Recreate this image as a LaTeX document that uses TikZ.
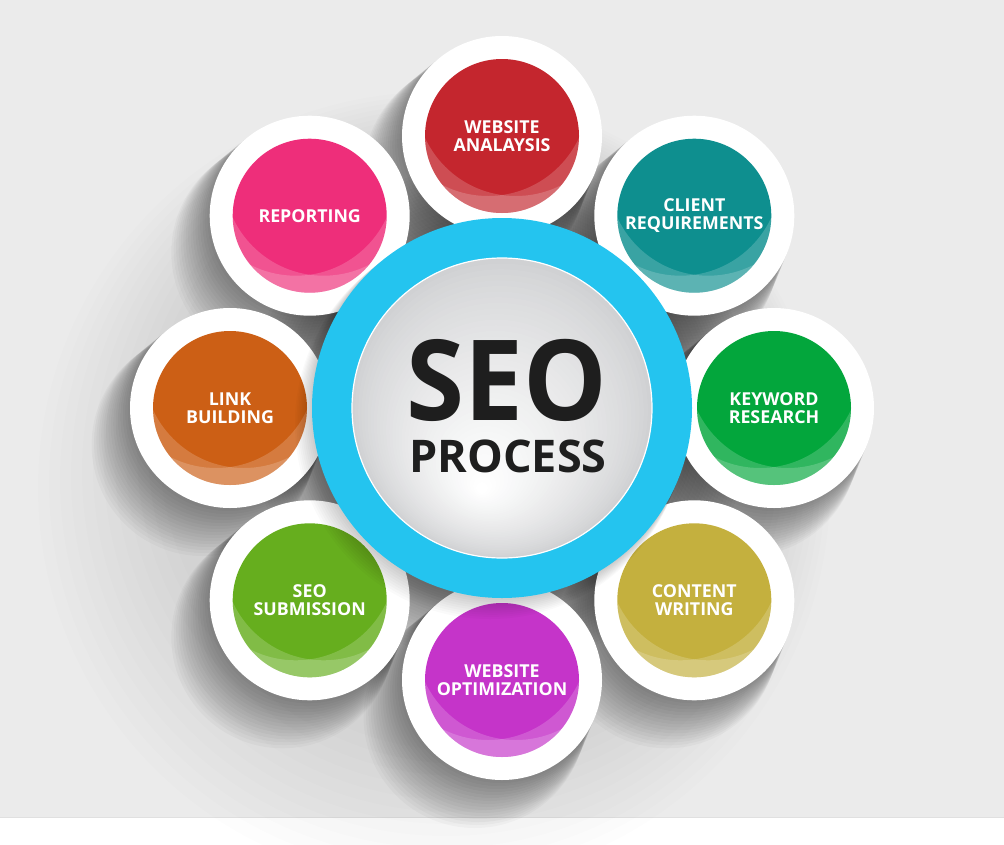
\documentclass[tikz,border=0pt]{standalone}
\usepackage{fontspec}
\setmainfont{Open Sans}
\usetikzlibrary{calc}
\definecolor{bg}{HTML}{EBEBEB}
\definecolor{ringblue}{HTML}{24C4EF}
\definecolor{discgray}{HTML}{D0D1D3}
\definecolor{seoink}{HTML}{1E1E1E}
\definecolor{cwa}{HTML}{C4262E}
\definecolor{ccr}{HTML}{0E8F8F}
\definecolor{ckr}{HTML}{03A63C}
\definecolor{ccw}{HTML}{C4B03E}
\definecolor{cwo}{HTML}{C534C9}
\definecolor{css}{HTML}{66AE1E}
\definecolor{clb}{HTML}{CC5F15}
\definecolor{crp}{HTML}{EE2E7A}
\tikzset{
  sattext/.style={text=white, align=center, inner sep=0pt,
    font=\fontsize{17.8}{17.5}\selectfont\bfseries},
  bigtext/.style={text=seoink, anchor=base, inner sep=0pt, text depth=0pt},
}
\newcommand\satshadow[3]{%
  \foreach \k in {1,...,16} {
    \fill[black, opacity=0.026] (#1-\k*1.7, #2+\k*2.3) circle (#3+\k*0.7);
  }%
}
\newcommand\satdisc[5]{%
  \fill[white] (#2,#3) circle (100);
  \fill[#4] (#2,#3) circle (77);
  \begin{scope}
    \clip (#2,#3) circle (77);
    \fill[white, opacity=0.18, even odd rule] (#2,#3) circle (78) (#2+13.9,#3-40) circle (100);
    \fill[white, opacity=0.18, even odd rule] (#2,#3) circle (78) (#2-13.9,#3-40) circle (100);
  \end{scope}
  \node[sattext] (#1) at (#2,#3) {#5};
}
\begin{document}
\begin{tikzpicture}[x=1pt,y=-1pt]
\useasboundingbox (0,0) rectangle (1004,844);
\fill[bg] (0,0) rectangle (1004,817);
\fill[white] (0,817) rectangle (1004,844);
\draw[line width=1pt, color=black!12] (0,817.5) -- (1004,817.5);
% broad soft shadow
\foreach \k in {1,...,12} {
  \fill[black, opacity=0.008] (470-\k*3, 440+\k*4) circle (300+\k*8);
}
% dark halo round the central ring, seen in the gaps
\foreach \k in {1,...,20} {
  \fill[black, opacity=0.02] (500,412) circle (192+\k*3);
}
% shadows of the circles
\satshadow{502}{136}{100}
\satshadow{694.3}{215.7}{100}
\satshadow{774}{408}{100}
\satshadow{694.3}{600.3}{100}
\satshadow{502}{680}{100}
\satshadow{309.7}{600.3}{100}
\satshadow{230}{408}{100}
\satshadow{309.7}{215.7}{100}
% satellites
\satdisc{wa}{502}{136}{cwa}{WEBSITE\\ANALAYSIS}
\satdisc{cr}{694.3}{215.7}{ccr}{CLIENT\\REQUIREMENTS}
\satdisc{kr}{774}{408}{ckr}{KEYWORD\\RESEARCH}
\satdisc{cw}{694.3}{600.3}{ccw}{CONTENT\\WRITING}
\satdisc{wo}{502}{680}{cwo}{WEBSITE\\OPTIMIZATION}
\satdisc{ss}{309.7}{600.3}{css}{SEO\\SUBMISSION}
\satdisc{lb}{230}{408}{clb}{LINK\\BUILDING}
\satdisc{rp}{309.7}{215.7}{crp}{REPORTING}
% central ring
\foreach \k in {1,...,10} {
  \fill[black, opacity=0.02] (502-\k*1.2, 408+\k*1.6) circle (190+\k*0.5);
}
\fill[ringblue] (502,408) circle (190);
\foreach \i in {0,...,40} {
  \pgfmathsetmacro\p{100*(\i/40)^0.8}
  \fill[white!\p!discgray] (502-\i*0.5, 408+\i*2) circle (150-\i*3.6);
}
\draw[white, line width=1.2pt] (502,408) circle (150);
\node[bigtext, text height=78pt, font=\fontsize{112}{112}\selectfont\bfseries, xscale=0.94] (seo) at (507,420) {SEO};
\node[bigtext, text height=32pt, font=\fontsize{45}{45}\selectfont\bfseries] (proc) at (508,472) {PROCESS};
\end{tikzpicture}
\end{document}
